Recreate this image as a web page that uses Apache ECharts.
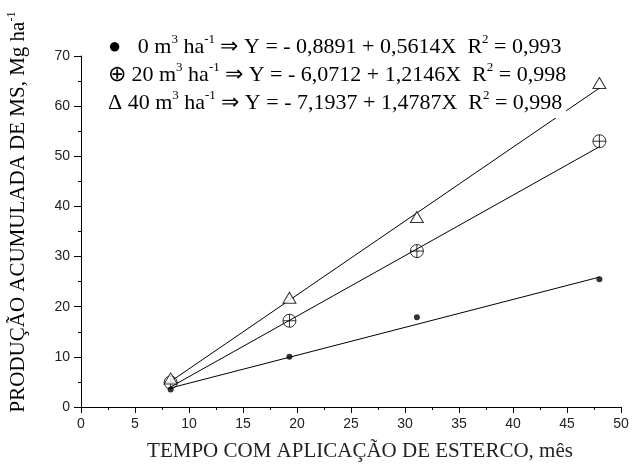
<!DOCTYPE html>
<html>
<head>
<meta charset="utf-8">
<script src="https://cdn.jsdelivr.net/npm/echarts@6/dist/echarts.min.js"></script>
<style>html,body{margin:0;padding:0;background:#fff}#c{width:632px;height:467px}</style>
</head>
<body>
<div id="c"></div>
<script>
// Observed data (months of manure application vs accumulated DM production)
const months = [8.3, 19.3, 31.1, 48.0];
const dose0 = [3.5, 10.0, 17.9, 25.5];
const dose20 = [4.9, 17.2, 31.1, 53.0];
const dose40 = [5.7, 21.8, 37.9, 64.6];
// Fitted regression lines (end points)
const fitX = [8.3, 48.0];
const fit0 = [3.8, 25.9];
const fit20 = [4.0, 51.9];
const fit40 = [5.1, 63.6];
const xTicks = [0, 50, 5];
const yTicks = [0, 70, 10];

const serif = "'Liberation Serif','Times New Roman',serif";
const sans = "'Liberation Sans',Arial,sans-serif";
const pair = (xs, ys) => xs.map((x, i) => [x, ys[i]]);

const crossCircle = 'path://M0,-10A10,10 0 1,1 0,10A10,10 0 1,1 0,-10Z M-10,0L10,0 M0,-10L0,10';

const chart = echarts.init(document.getElementById('c'));
const supStyle = {fontFamily: serif, fontSize: 13, color: '#111', verticalAlign: 'top', lineHeight: 18};
const norm = {fontFamily: serif, fontSize: 22, color: '#111', lineHeight: 28};

chart.setOption({
  animation: false,
  backgroundColor: '#fff',
  grid: {left: 81, right: 11, top: 56, bottom: 60},
  xAxis: {
    type: 'value', min: xTicks[0], max: xTicks[1], interval: xTicks[2],
    axisLine: {lineStyle: {color: '#000', width: 1}},
    axisTick: {show: true, length: 6, lineStyle: {color: '#000'}},
    minorTick: {show: true, splitNumber: 2, length: 3, lineStyle: {color: '#000'}},
    splitLine: {show: false},
    axisLabel: {fontFamily: sans, fontSize: 14, color: '#222', margin: 10}
  },
  yAxis: {
    type: 'value', min: yTicks[0], max: yTicks[1], interval: yTicks[2],
    axisLine: {show: true, lineStyle: {color: '#000', width: 1}},
    axisTick: {show: true, length: 7, lineStyle: {color: '#000'}},
    minorTick: {show: true, splitNumber: 2, length: 3, lineStyle: {color: '#000'}},
    splitLine: {show: false},
    axisLabel: {fontFamily: sans, fontSize: 14, color: '#222', margin: 11}
  },
  graphic: [
    {
      type: 'text', left: 108, top: 33, z: 100,
      style: {
        text: '{n|●   0 m}{s|3}{n| ha}{s|-1}{n| ⇒ Y = - 0,8891 + 0,5614X  R}{s|2}{n| = 0,993}\n' +
              '{n|⊕ 20 m}{s|3}{n| ha}{s|-1}{n| ⇒ Y = - 6,0712 + 1,2146X  R}{s|2}{n| = 0,998}\n' +
              '{n|Δ 40 m}{s|3}{n| ha}{s|-1}{n| ⇒ Y = - 7,1937 + 1,4787X  R}{s|2}{n| = 0,998}',
        rich: {n: norm, s: supStyle},
        backgroundColor: '#fff',
        padding: [0, 0, 1, 0]
      }
    },
    {
      type: 'text', x: 18, y: 212, rotation: Math.PI / 2, z: 100,
      style: {
        text: '{n|PRODUÇÃO ACUMULADA DE MS, Mg ha}{s|-1}',
        rich: {n: {fontFamily: serif, fontSize: 21, color: '#222', lineHeight: 24},
               s: {fontFamily: serif, fontSize: 12, color: '#222', verticalAlign: 'top', lineHeight: 14}},
        align: 'center', verticalAlign: 'middle'
      }
    },
    {
      type: 'text', x: 360, y: 451, z: 100,
      style: {
        text: 'TEMPO COM APLICAÇÃO DE ESTERCO, mês',
        fontFamily: serif, fontSize: 21, fill: '#222',
        align: 'center', verticalAlign: 'middle'
      }
    }
  ],
  series: [
    {type: 'line', data: pair(fitX, fit0), symbol: 'none', lineStyle: {color: '#000', width: 1}, z: 2},
    {type: 'line', data: pair(fitX, fit20), symbol: 'none', lineStyle: {color: '#000', width: 1}, z: 2},
    {type: 'line', data: pair(fitX, fit40), symbol: 'none', lineStyle: {color: '#000', width: 1}, z: 2},
    {type: 'scatter', data: pair(months, dose0), symbol: 'circle', symbolSize: 6,
     itemStyle: {color: '#000'}, z: 3},
    {type: 'scatter', data: pair(months, dose20), symbol: crossCircle, symbolSize: 13,
     itemStyle: {color: 'rgba(0,0,0,0)', borderColor: '#000', borderWidth: 1}, z: 3},
    {type: 'scatter', data: pair(months, dose40), symbol: 'triangle', symbolSize: [13, 11],
     itemStyle: {color: '#fff', borderColor: '#000', borderWidth: 1}, z: 3}
  ]
});
</script>
</body>
</html>
